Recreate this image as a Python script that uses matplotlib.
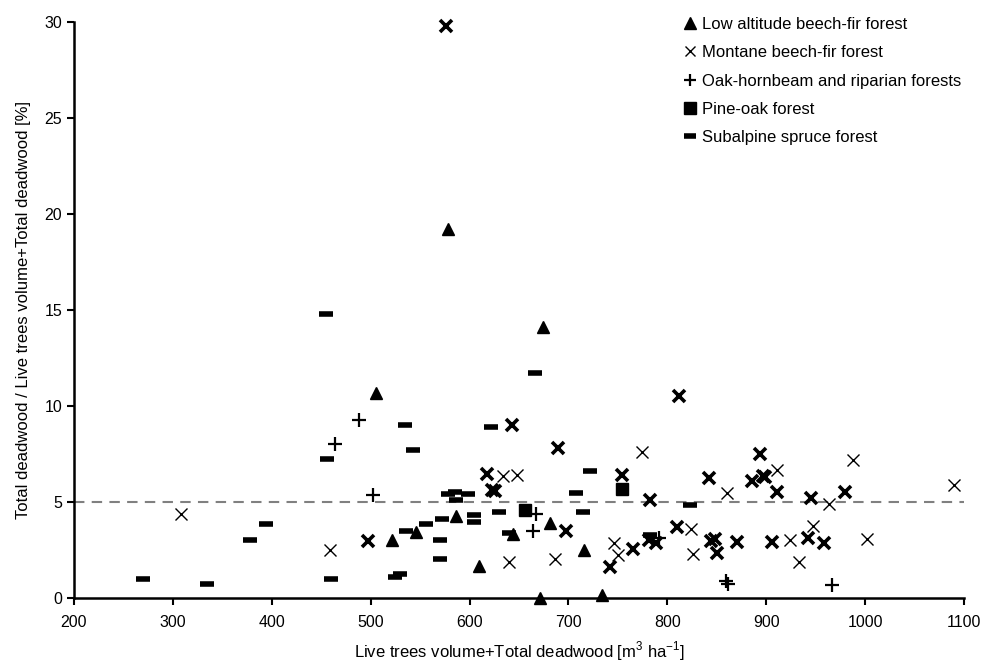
import matplotlib
matplotlib.use('Agg')
import matplotlib.pyplot as plt
from matplotlib.lines import Line2D

plt.rcParams['font.family'] = ['Liberation Sans', 'DejaVu Sans']
plt.rcParams['mathtext.fontset'] = 'custom'
plt.rcParams['mathtext.rm'] = 'Liberation Sans'

##########################  DATA  ##############################

# Low altitude beech-fir forest
low_x = [578, 674, 505, 586, 681, 644, 716, 610, 671, 734, 522, 546]
low_y = [19.2, 14.1, 10.7, 4.25, 3.9, 3.35, 2.5, 1.65, 0.0, 0.15, 3.0, 3.45]

# Montane beech-fir forest (heavy crosses)
mont_x = [576, 812, 643, 689, 618, 754, 842, 623, 626, 782, 698, 765, 742,
          781, 789, 810, 844, 848, 850, 870, 894, 886, 897, 899, 911, 945,
          980, 906, 942, 958, 497]
mont_y = [29.8, 10.5, 9.0, 7.8, 6.45, 6.4, 6.23, 5.6, 5.55, 5.1, 3.5, 2.55,
          1.6, 3.0, 2.88, 3.7, 2.95, 3.05, 2.35, 2.9, 7.5, 6.1, 6.35, 6.3,
          5.5, 5.2, 5.5, 2.93, 3.1, 2.87, 2.95]

# Montane beech-fir forest (light crosses)
mont2_x = [634, 648, 774, 860, 640, 686, 746, 750, 824, 826, 911, 963, 988,
           1090, 924, 933, 947, 1002, 308, 459]
mont2_y = [6.35, 6.4, 7.6, 5.48, 1.85, 2.05, 2.85, 2.25, 3.58, 2.3, 6.65,
           4.9, 7.2, 5.9, 3.0, 1.88, 3.75, 3.05, 4.4, 2.5]

# Oak-hornbeam and riparian forests
oak_x = [488, 464, 502, 667, 664, 792, 859, 861, 967]
oak_y = [9.25, 8.0, 5.35, 4.4, 3.5, 3.15, 0.9, 0.75, 0.7]

# Pine-oak forest
pine_x = [754, 656]
pine_y = [5.7, 4.6]

# Subalpine spruce forest
sub_x = [455, 666, 622, 535, 543, 456, 722, 708, 823, 630, 715, 604, 604,
         640, 782, 270, 335, 378, 394, 460, 525, 530, 536, 556, 572, 570,
         570, 578, 585, 598, 586]
sub_y = [14.8, 11.7, 8.9, 9.0, 7.7, 7.25, 6.6, 5.45, 4.82, 4.5, 4.5, 4.3,
         3.95, 3.4, 3.3, 1.0, 0.75, 3.0, 3.85, 1.0, 1.1, 1.25, 3.5, 3.85,
         4.1, 3.0, 2.05, 5.4, 5.5, 5.4, 5.1]

threshold = 5

x_ticks = list(range(200, 1101, 100))
y_ticks = list(range(0, 31, 5))

##########################  PLOT  ##############################

fig = plt.figure(figsize=(9.85, 6.66), dpi=100)
ax = fig.add_axes([0.0751, 0.1021, 0.9036, 0.8649])

ax.axhline(threshold, color='#808080', linestyle=(0, (5, 3.5)), linewidth=1.5, zorder=1)

ax.plot(low_x, low_y, linestyle='none', marker='^', markersize=9,
        color='black', zorder=3, clip_on=False)
ax.plot(mont_x, mont_y, linestyle='none', marker='x', markersize=8,
        markeredgewidth=2.6, color='black', zorder=3, clip_on=False)
ax.plot(mont2_x, mont2_y, linestyle='none', marker='x', markersize=8.5,
        markeredgewidth=1.0, color='black', zorder=3, clip_on=False)
ax.plot(oak_x, oak_y, linestyle='none', marker='+', markersize=9.5,
        markeredgewidth=1.6, color='black', zorder=3, clip_on=False)
ax.plot(pine_x, pine_y, linestyle='none', marker='s', markersize=9,
        color='black', zorder=3, clip_on=False)
ax.plot(sub_x, sub_y, linestyle='none', marker='_', markersize=10,
        markeredgewidth=4, color='black', zorder=3, clip_on=False)

ax.set_xlim(200, 1100)
ax.set_ylim(0, 30)
ax.set_xticks(x_ticks)
ax.set_yticks(y_ticks)
ax.tick_params(axis='both', labelsize=11.5, width=1.5, length=5, direction='out')
ax.tick_params(axis='x', pad=7)
ax.spines['top'].set_visible(False)
ax.spines['right'].set_visible(False)
ax.spines['left'].set_linewidth(1.8)
ax.spines['bottom'].set_linewidth(1.8)

ax.set_xlabel('Live trees volume+Total deadwood [m$^3$ ha$^{-1}$]', fontsize=12, labelpad=7)
ax.set_ylabel('Total deadwood / Live trees volume+Total deadwood [%]', fontsize=12, labelpad=10)

handles = [
    Line2D([], [], linestyle='none', marker='^', markersize=8, color='black'),
    Line2D([], [], linestyle='none', marker='x', markersize=7, markeredgewidth=1.0, color='black'),
    Line2D([], [], linestyle='none', marker='+', markersize=8, markeredgewidth=1.6, color='black'),
    Line2D([], [], linestyle='none', marker='s', markersize=8, color='black'),
    Line2D([], [], linestyle='none', marker='_', markersize=9, markeredgewidth=4, color='black'),
]
labels = ['Low altitude beech-fir forest', 'Montane beech-fir forest',
          'Oak-hornbeam and riparian forests', 'Pine-oak forest',
          'Subalpine spruce forest']
fig.legend(handles, labels, loc='upper left', bbox_to_anchor=(0.683, 0.992),
           frameon=False, fontsize=12, handlelength=0.7, handletextpad=0.35,
           labelspacing=0.8, borderpad=0.2)

fig.savefig('out.png', dpi=100)
